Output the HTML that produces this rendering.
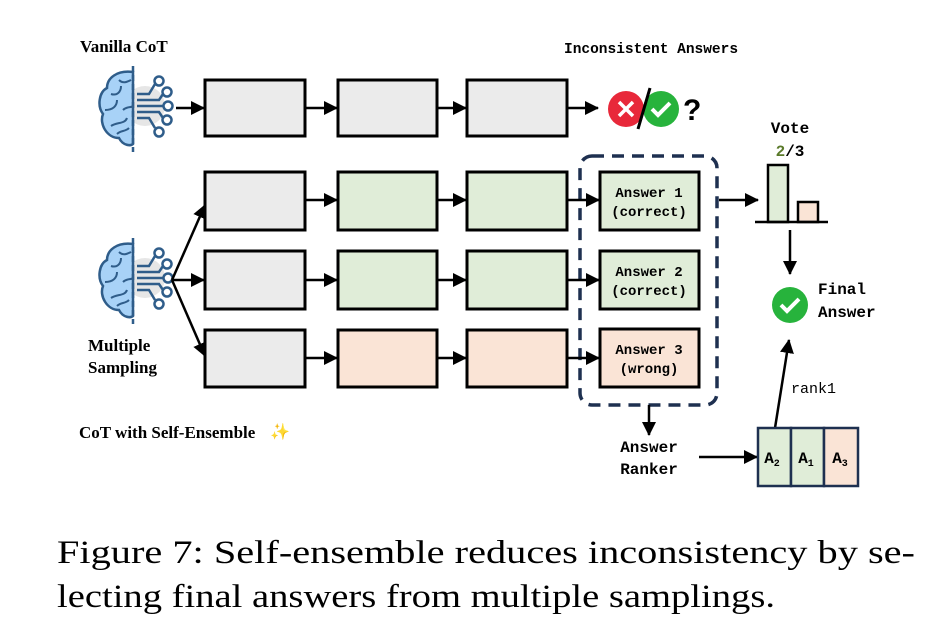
<!DOCTYPE html>
<html><head><meta charset="utf-8"><style>
body{margin:0;background:#fff;width:950px;height:632px;overflow:hidden}
svg{display:block}
.m{font-family:"Liberation Mono",monospace;font-weight:bold}
.s{font-family:"Liberation Serif",serif;font-weight:bold}
</style></head><body>
<svg width="950" height="632" viewBox="0 0 950 632" xmlns="http://www.w3.org/2000/svg">
<defs>
<marker id="b" markerWidth="14" markerHeight="14" refX="13" refY="7" orient="auto" markerUnits="userSpaceOnUse"><path d="M0,0 L14,7 L0,14 z" fill="#000"/></marker>
<g id="brain">
<circle cx="48" cy="40" r="20" fill="#e6e6e6"/>
<path d="M36,6 C20,4 10,12 10,22 C2,26 0,40 6,48 C2,58 10,72 22,72 C26,80 34,80 36,78 Z" fill="#a8d2f7" stroke="#2f5d8a" stroke-width="2.5"/>
<path d="M14,28 C20,30 24,26 24,20 M8,44 C16,44 20,40 20,34 M14,60 C20,56 28,58 30,52 M26,44 C30,40 34,42 36,40 M22,14 C26,18 30,16 34,14 M20,68 C24,64 28,66 32,62" fill="none" stroke="#2f5d8a" stroke-width="2"/>
<line x1="36" y1="0" x2="36" y2="86" stroke="#2f5d8a" stroke-width="2.5" stroke-dasharray="6,3"/>
<g fill="none" stroke="#2f5d8a" stroke-width="2.5">
<path d="M40,28 L52,28 L58,18"/><circle cx="62" cy="15" r="4.5" fill="#fff"/>
<path d="M40,34 L62,34 L66,28"/><circle cx="70" cy="26" r="4.5" fill="#fff"/>
<path d="M40,40 L66,40"/><circle cx="71" cy="40" r="4.5" fill="#fff"/>
<path d="M40,46 L62,46 L66,52"/><circle cx="70" cy="54" r="4.5" fill="#fff"/>
<path d="M40,52 L52,52 L58,62"/><circle cx="62" cy="66" r="4.5" fill="#fff"/>
</g>
</g>
</defs>
<g stroke="#000" stroke-width="3" fill="#ebebeb">
<rect x="205" y="80" width="100" height="56"/><rect x="338" y="80" width="99" height="56"/><rect x="467" y="80" width="100" height="56"/>
<rect x="205" y="172" width="100" height="58"/><rect x="338" y="172" width="99" height="58" fill="#e0edd8"/><rect x="467" y="172" width="100" height="58" fill="#e0edd8"/>
<rect x="205" y="251" width="100" height="58"/><rect x="338" y="251" width="99" height="58" fill="#e0edd8"/><rect x="467" y="251" width="100" height="58" fill="#e0edd8"/>
<rect x="205" y="330" width="100" height="57"/><rect x="338" y="330" width="99" height="57" fill="#fae4d6"/><rect x="467" y="330" width="100" height="57" fill="#fae4d6"/>
<rect x="600" y="172" width="99" height="58" fill="#e0edd8"/>
<rect x="600" y="251" width="99" height="58" fill="#e0edd8"/>
<rect x="600" y="329" width="99" height="58" fill="#fae4d6"/>
</g>
<rect x="580" y="156" width="137" height="249" rx="12" fill="none" stroke="#1e3050" stroke-width="3.5" stroke-dasharray="12,8"/>
<use href="#brain" x="97" y="66"/>
<use href="#brain" x="97" y="238"/>
<g stroke="#000" stroke-width="2.5" fill="none">
<line x1="176" y1="108" x2="204" y2="108" marker-end="url(#b)"/>
<line x1="305" y1="108" x2="337" y2="108" marker-end="url(#b)"/>
<line x1="437" y1="108" x2="466" y2="108" marker-end="url(#b)"/>
<line x1="567" y1="108" x2="598" y2="108" marker-end="url(#b)"/>
<line x1="172" y1="280" x2="205" y2="205" marker-end="url(#b)"/>
<line x1="172" y1="280" x2="204" y2="280" marker-end="url(#b)"/>
<line x1="172" y1="280" x2="205" y2="356" marker-end="url(#b)"/>
<line x1="305" y1="200" x2="337" y2="200" marker-end="url(#b)"/><line x1="437" y1="200" x2="466" y2="200" marker-end="url(#b)"/><line x1="567" y1="200" x2="599" y2="200" marker-end="url(#b)"/>
<line x1="305" y1="280" x2="337" y2="280" marker-end="url(#b)"/><line x1="437" y1="280" x2="466" y2="280" marker-end="url(#b)"/><line x1="567" y1="280" x2="599" y2="280" marker-end="url(#b)"/>
<line x1="305" y1="358" x2="337" y2="358" marker-end="url(#b)"/><line x1="437" y1="358" x2="466" y2="358" marker-end="url(#b)"/><line x1="567" y1="358" x2="599" y2="358" marker-end="url(#b)"/>
<line x1="719" y1="200" x2="758" y2="200" marker-end="url(#b)"/>
<line x1="790" y1="230" x2="790" y2="274" marker-end="url(#b)"/>
<line x1="649" y1="405" x2="649" y2="435" marker-end="url(#b)"/>
<line x1="699" y1="457" x2="757" y2="457" marker-end="url(#b)"/>
<line x1="775" y1="428" x2="789" y2="340" marker-end="url(#b)"/>
</g>
<g stroke="#000" stroke-width="2.5">
<rect x="768" y="165" width="20" height="57" fill="#e0edd8"/>
<rect x="798" y="202" width="20" height="20" fill="#fae4d6"/>
<line x1="755" y1="222" x2="828" y2="222"/>
</g>
<g stroke="#1e3050" stroke-width="2.5">
<rect x="758" y="428" width="33" height="58" fill="#e0edd8"/>
<rect x="791" y="428" width="33" height="58" fill="#e0edd8"/>
<rect x="824" y="428" width="34" height="58" fill="#fae4d6"/>
</g>
<circle cx="626" cy="109" r="18" fill="#e8283a"/>
<path d="M619,102 L633,116 M633,102 L619,116" stroke="#fff" stroke-width="3.5"/>
<circle cx="661" cy="109" r="18" fill="#27b33c"/>
<path d="M652,109 L658,115 L670,103" stroke="#fff" stroke-width="4" fill="none"/>
<line x1="650" y1="88" x2="638" y2="129" stroke="#000" stroke-width="3"/>
<text x="683" y="120" font-family="Liberation Sans,sans-serif" font-weight="bold" font-size="30">?</text>
<circle cx="790" cy="305" r="18" fill="#27b33c"/>
<path d="M781,305 L787,311 L799,299" stroke="#fff" stroke-width="4" fill="none"/>
<text x="80" y="52" class="s" font-size="17">Vanilla CoT</text>
<text x="564" y="53" class="m" font-size="14.5">Inconsistent Answers</text>
<text x="88" y="351" class="s" font-size="17">Multiple</text>
<text x="88" y="373" class="s" font-size="17">Sampling</text>
<text x="79" y="438" class="s" font-size="17">CoT with Self-Ensemble</text>
<text x="270" y="437" font-size="16" fill="#f2c230">✨</text>
<g class="m" font-size="14" text-anchor="middle">
<text x="649" y="197">Answer 1</text><text x="649" y="216">(correct)</text>
<text x="649" y="276">Answer 2</text><text x="649" y="295">(correct)</text>
<text x="649" y="354">Answer 3</text><text x="649" y="373">(wrong)</text>
</g>
<g class="m" font-size="16" text-anchor="middle">
<text x="790" y="133">Vote</text>
<text x="790" y="156"><tspan fill="#5a7a2a">2</tspan>/3</text>
<text x="649" y="452">Answer</text>
<text x="649" y="474">Ranker</text>
</g>
<text x="818" y="294" class="m" font-size="16">Final</text>
<text x="818" y="317" class="m" font-size="16">Answer</text>
<text x="791" y="393" font-family="Liberation Mono,monospace" font-size="15">rank1</text>
<g class="m" font-size="16" text-anchor="middle">
<text x="772" y="463">A<tspan font-size="10" dy="3">2</tspan></text>
<text x="806" y="463">A<tspan font-size="10" dy="3">1</tspan></text>
<text x="840" y="463">A<tspan font-size="10" dy="3">3</tspan></text>
</g>
<text x="57" y="563" font-family="Liberation Serif,serif" font-size="33" textLength="858" lengthAdjust="spacingAndGlyphs">Figure 7:  Self-ensemble reduces inconsistency by se-</text>
<text x="57" y="607" font-family="Liberation Serif,serif" font-size="33" textLength="718" lengthAdjust="spacingAndGlyphs">lecting final answers from multiple samplings.</text>
</svg>
</body></html>
